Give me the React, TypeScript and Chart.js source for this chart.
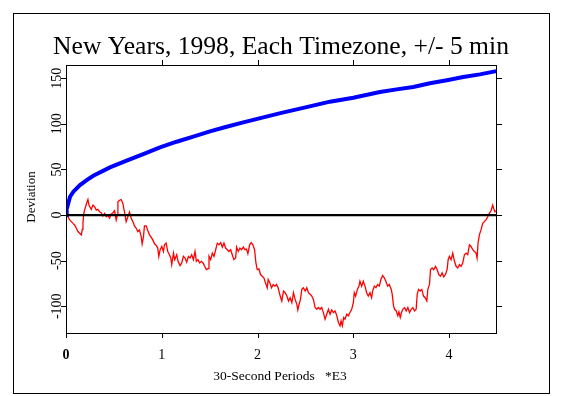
import React, { useEffect, useRef } from "react";
import { Chart, registerables } from "chart.js";

Chart.register(...registerables);

const TITLE = "New Years, 1998, Each Timezone, +/- 5 min";
const X_TITLE = "30-Second Periods   *E3";
const Y_TITLE = "Deviation";

const X_TICKS = [0, 1, 2, 3, 4];
const Y_TICKS = [-100, -50, 0, 50, 100, 150];

const X_MIN = 0;
const X_MAX = 4.5;
const Y_MIN = -129.3;
const Y_MAX = 164.5;

// cumulative deviation (red)
const redX = [
  0, 0.021, 0.038, 0.056, 0.073, 0.09, 0.108, 0.125, 0.142, 0.16, 0.17, 0.177, 0.184, 0.194, 0.212, 0.229,
  0.24, 0.253, 0.264, 0.281, 0.299, 0.316, 0.333, 0.351, 0.368, 0.385, 0.403, 0.42, 0.4375, 0.455, 0.472,
  0.49, 0.507, 0.524, 0.535, 0.542, 0.559, 0.576, 0.594, 0.604, 0.615, 0.628, 0.646, 0.663, 0.681, 0.698,
  0.715, 0.733, 0.75, 0.767, 0.785, 0.795, 0.809, 0.819, 0.837, 0.854, 0.872, 0.889, 0.906, 0.924, 0.941,
  0.958, 0.969, 0.983, 1.0, 1.017, 1.028, 1.045, 1.0625, 1.08,
  1.094, 1.104, 1.122, 1.135, 1.156, 1.17, 1.191, 1.208, 1.226, 1.243, 1.26, 1.278, 1.295, 1.3125, 1.33,
  1.347, 1.361, 1.378, 1.396, 1.413, 1.431, 1.448, 1.465, 1.483, 1.493, 1.51, 1.528, 1.545, 1.5625, 1.58,
  1.597, 1.615, 1.632, 1.649, 1.667, 1.684, 1.701, 1.719, 1.736, 1.753, 1.771, 1.781, 1.799, 1.816, 1.833,
  1.851, 1.868, 1.885, 1.899, 1.917, 1.934, 1.951, 1.969, 1.983, 1.997, 2.014, 2.031, 2.049, 2.066, 2.083,
  2.101, 2.111, 2.128, 2.146, 2.163, 2.181, 2.198, 2.215,
  2.236, 2.253, 2.271, 2.288, 2.306, 2.323, 2.34, 2.358, 2.375, 2.392, 2.41, 2.42, 2.434, 2.448, 2.462,
  2.479, 2.497, 2.514, 2.531, 2.549, 2.566, 2.583, 2.601, 2.618, 2.635, 2.653, 2.67, 2.6875, 2.705, 2.722,
  2.74, 2.757, 2.774, 2.792, 2.809, 2.826, 2.844, 2.861, 2.872, 2.885, 2.899, 2.913, 2.931, 2.948, 2.965,
  2.983, 3.0, 3.01, 3.024, 3.042, 3.059, 3.069, 3.087, 3.104, 3.122, 3.139, 3.156, 3.174, 3.191, 3.201,
  3.219, 3.236, 3.253, 3.271, 3.288, 3.306, 3.323, 3.34, 3.358, 3.375,
  3.396, 3.406, 3.42, 3.431, 3.448, 3.465, 3.476, 3.49, 3.503, 3.517, 3.535, 3.552, 3.569, 3.587, 3.604,
  3.622, 3.639, 3.656, 3.667, 3.681, 3.698, 3.715, 3.733, 3.75, 3.767, 3.778, 3.795, 3.806, 3.823, 3.84,
  3.858, 3.875, 3.892, 3.91, 3.927, 3.944, 3.962, 3.979, 3.99, 4.003, 4.021, 4.038, 4.056, 4.073, 4.09,
  4.108, 4.125, 4.142, 4.16, 4.177, 4.194, 4.212, 4.229, 4.247, 4.264, 4.281, 4.292, 4.302, 4.316, 4.333,
  4.351, 4.368, 4.385, 4.403, 4.42, 4.4375, 4.455, 4.465, 4.479, 4.49,
];
const redY = [
  0, -1.8, -5.4, -7.2, -9.1, -10.9, -14.5, -18.1, -19.9, -21.7, -15.6, -9.1, 1.1, 5.4, 11.9, 17.0,
  10.9, 8.3, 6.2, 10.9, 9.1, 5.4, 6.2, 3.6, 2.5, -1.1, 1.8, -1.8, -0.4, -3.3, 1.1,
  2.5, 4.7, -5.4, -0.4, 14.5, 16.3, 17.0, 12.7, 6.9, 1.1, -7.2, -1.8, 3.3, -3.6, -7.2,
  -11.9, -14.5, -18.1, -16.3, -23.6, -31.5, -23.6, -11.9, -11.9, -17.0, -21.7, -24.3, -27.2, -31.5, -33.0,
  -36.2, -45.3, -38.0, -34.4, -39.9, -32.6, -30.8, -39.9, -43.5,
  -47.1, -54.3, -41.7, -48.9, -43.5, -50.7, -55.4, -52.5, -45.3, -47.1, -51.8, -45.3, -47.1, -43.5, -48.9,
  -39.9, -50.7, -48.9, -52.5, -50.7, -52.5, -56.2, -59.8, -58.7, -45.3, -48.9, -41.7, -45.3, -38.0, -30.8,
  -32.6, -30.1, -35.1, -30.8, -36.2, -38.0, -39.9, -38.0, -43.5, -48.9, -47.1, -35.1, -39.9, -36.2, -38.0,
  -35.1, -38.0, -37.3, -42.4, -32.6, -30.1, -32.6, -38.0, -52.5, -59.8, -59.1, -65.2, -67.0, -68.8, -74.3,
  -79.7, -70.7, -74.3, -79.7, -76.1, -77.9, -76.1, -79.7,
  -88.8, -94.2, -83.3, -85.1, -88.8, -94.2, -90.6, -96.0, -85.1, -92.4, -97.8, -104.0, -97.8, -92.4, -81.5,
  -79.7, -83.3, -79.7, -85.1, -86.9, -88.8, -92.4, -101.4, -103.3, -101.4, -103.3, -101.4, -106.9, -114.1, -108.7,
  -103.3, -108.7, -104.0, -106.9, -105.1, -109.8, -117.8, -121.4, -116.0, -121.4, -112.3, -114.1, -108.7, -110.5, -106.9,
  -103.3, -96.0, -85.1, -88.8, -81.5, -77.9, -72.5, -77.9, -72.5, -77.9, -85.1, -88.8, -85.1, -90.6, -83.3,
  -77.9, -79.7, -76.1, -77.9, -70.7, -66.3, -68.8, -72.5, -77.9, -76.1,
  -81.5, -87.0, -99.6, -103.3, -105.1, -110.5, -106.2, -112.3, -106.9, -103.3, -101.4, -105.1, -101.4, -106.9, -103.3,
  -101.4, -105.1, -103.3, -87.0, -81.5, -83.3, -81.5, -88.8, -90.6, -94.2, -81.5, -76.1, -59.8, -58.0, -59.8,
  -56.2, -59.8, -65.2, -67.0, -63.4, -67.8, -65.2, -59.8, -48.9, -45.3, -48.9, -41.7, -50.7, -56.2, -58.0,
  -54.3, -56.2, -52.5, -43.5, -41.7, -43.5, -32.6, -34.4, -38.0, -39.9, -41.7, -47.1, -30.8, -21.7, -16.3,
  -9.1, -7.2, -5.4, -1.8, 1.8, 4.7, 10.9, 7.2, 3.6, 4.7,
];

// expectation envelope (blue)
const blueX = [
  0, 0.007, 0.014, 0.042, 0.077, 0.111, 0.146, 0.216, 0.285, 0.459, 0.633, 0.807, 0.981, 1.155, 1.329,
  1.503, 1.677, 1.851, 2.018, 2.25, 2.5, 2.756, 3.0, 3.278, 3.452, 3.626, 3.8, 3.991, 4.147, 4.322, 4.478, 4.5,
];
const blueY = [
  0, 7.3, 9.1, 20.1, 25.6, 29.2, 32.9, 38.4, 43.1, 52.3, 59.6, 66.9, 74.2, 80.4, 85.9,
  91.8, 96.8, 101.6, 106.0, 112.0, 118.0, 124.3, 128.6, 134.9, 137.8, 140.4, 144.4, 148.0, 151.3, 154.2, 157.5, 157.8,
];

// zero reference line
const zeroX = [0, 4.5];
const zeroY = [0, 0];

const SERIF = '"Liberation Serif", "Times New Roman", serif';

const toPoints = (xs: number[], ys: number[]) => xs.map((x, i) => ({ x, y: ys[i] }));

const decorPlugin = {
  id: "decor",
  afterDraw(chart: any) {
    const ctx: CanvasRenderingContext2D = chart.ctx;
    const { left, right, top, bottom } = chart.chartArea;
    const xs = chart.scales.x;
    const ys = chart.scales.y;
    ctx.save();
    ctx.strokeStyle = "#000";
    ctx.fillStyle = "#000";
    ctx.lineWidth = 1;

    // outer frame
    ctx.strokeRect(13.5, 13.5, 536, 380);

    // plot box
    ctx.strokeRect(left + 0.5, top + 0.5, right - left - 1, bottom - top);

    // x tick marks (bottom + top)
    ctx.beginPath();
    X_TICKS.forEach((v) => {
      const px = Math.round(xs.getPixelForValue(v)) + 0.5;
      ctx.moveTo(px, bottom);
      ctx.lineTo(px, bottom + 5);
      if (v !== X_MIN) {
        ctx.moveTo(px, top + 0.5);
        ctx.lineTo(px, top - 5);
      }
    });
    // y tick marks (left + right)
    Y_TICKS.forEach((v) => {
      const py = Math.round(ys.getPixelForValue(v)) + 0.5;
      ctx.moveTo(left + 0.5, py);
      ctx.lineTo(left - 5, py);
      ctx.moveTo(right - 0.5, py);
      ctx.lineTo(right + 5, py);
    });
    ctx.stroke();

    // x tick labels
    ctx.textAlign = "center";
    ctx.textBaseline = "alphabetic";
    X_TICKS.forEach((v) => {
      ctx.font = (v === 0 ? "bold " : "") + "14px " + SERIF;
      ctx.fillText(String(v), xs.getPixelForValue(v), bottom + 25.5);
    });

    // y tick labels (rotated)
    ctx.font = "14px " + SERIF;
    Y_TICKS.forEach((v) => {
      const py = ys.getPixelForValue(v);
      ctx.save();
      ctx.translate(left - 5.2, py);
      ctx.rotate(-Math.PI / 2);
      ctx.textAlign = "center";
      ctx.fillText(String(v), 0, 0);
      ctx.restore();
    });

    // axis titles
    ctx.font = "13.5px " + SERIF;
    ctx.textAlign = "center";
    ctx.fillText(X_TITLE, 280, 380);

    ctx.save();
    ctx.font = "13px " + SERIF;
    ctx.translate(35, (top + bottom) / 2 - 2);
    ctx.rotate(-Math.PI / 2);
    ctx.textAlign = "center";
    ctx.fillText(Y_TITLE, 0, 0);
    ctx.restore();

    // main title
    ctx.font = "25.6px " + SERIF;
    ctx.textAlign = "center";
    ctx.fillText(TITLE, 281, 54);

    ctx.restore();
  },
};

export default function App() {
  const canvasRef = useRef<HTMLCanvasElement | null>(null);

  useEffect(() => {
    const canvas = canvasRef.current;
    if (!canvas) return;
    const chart = new Chart(canvas, {
      type: "line",
      data: {
        datasets: [
          {
            label: "zero",
            data: toPoints(zeroX, zeroY),
            borderColor: "#000000",
            borderWidth: 2.2,
            pointRadius: 0,
            tension: 0,
          },
          {
            label: "expectation",
            data: toPoints(blueX, blueY),
            borderColor: "#0000ff",
            borderWidth: 4,
            pointRadius: 0,
            tension: 0,
          },
          {
            label: "deviation",
            data: toPoints(redX, redY),
            borderColor: "#ff0000",
            borderWidth: 1.3,
            pointRadius: 0,
            tension: 0,
          },
        ],
      },
      options: {
        responsive: false,
        animation: false,
        devicePixelRatio: 1,
        layout: { padding: { left: 66, top: 65, right: 67, bottom: 63 } },
        plugins: {
          legend: { display: false },
          tooltip: { enabled: false },
          title: { display: false },
        },
        scales: {
          x: { type: "linear", min: X_MIN, max: X_MAX, display: false },
          y: { type: "linear", min: Y_MIN, max: Y_MAX, display: false },
        },
      },
      plugins: [decorPlugin],
    });
    return () => chart.destroy();
  }, []);

  return (
    <div style={{ position: "absolute", left: 0, top: 0, width: 564, height: 396, background: "#fff" }}>
      <canvas ref={canvasRef} width={564} height={396} style={{ display: "block" }} />
    </div>
  );
}
